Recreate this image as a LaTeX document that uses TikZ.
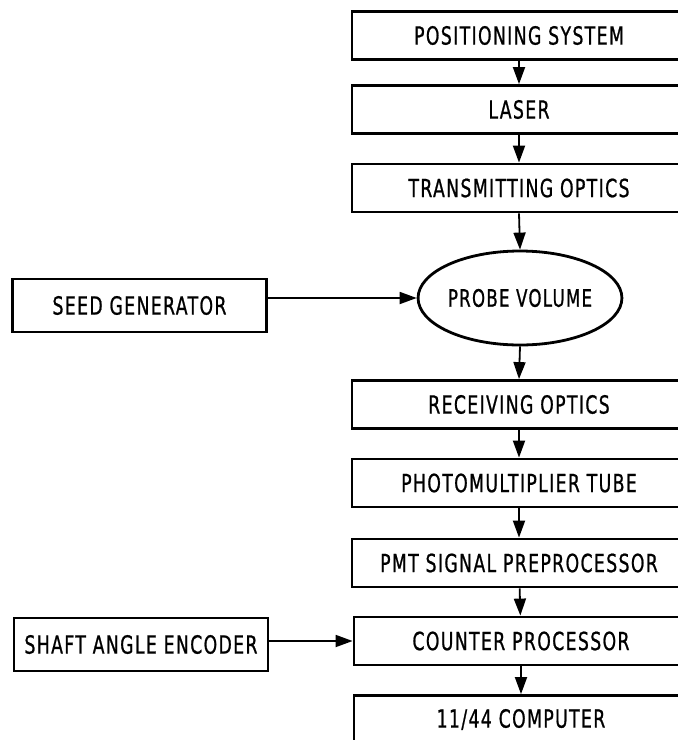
\documentclass[tikz,border=0pt]{standalone}
\usepackage{fontspec}
\setmainfont{DejaVu Sans}[FakeStretch=0.69, LetterSpace=5.5, FakeBold=0.8]
\usetikzlibrary{arrows.meta,shapes.geometric}

\tikzset{
  blk/.style={draw, line width=2.8pt, rectangle, inner sep=0pt,
    font=\fontsize{25}{25}\selectfont},
  chainbox/.style={blk, minimum width=334pt, minimum height=48pt},
  sidebox/.style={blk, minimum width=254pt, minimum height=53pt},
  oval/.style={draw, line width=2.8pt, ellipse, inner sep=0pt,
    minimum width=170pt, minimum height=94pt,
    font=\fontsize{24}{24}\selectfont},
  flow/.style={line width=1.8pt, -{Triangle[length=17pt,width=12pt]}}
}

\begin{document}
\begin{tikzpicture}[x=1pt, y=-1pt]
  \useasboundingbox (0,0) rectangle (678,740);
  \fill[white] (0,0) rectangle (678,740);
  \clip (0,0) rectangle (678,740);

  % main signal chain
  \node[chainbox] (pos)   at (519,35.5)  {POSITIONING SYSTEM};
  \node[chainbox] (laser) at (519,109.5) {LASER};
  \node[chainbox] (trans) at (519,188)   {TRANSMITTING OPTICS};
  \node[oval]     (probe) at (520,298)   {PROBE VOLUME};
  \node[chainbox] (recv)  at (519,404.5) {RECEIVING OPTICS};
  \node[chainbox] (pmt)   at (519,483)   {PHOTOMULTIPLIER TUBE};
  \node[chainbox] (pre)   at (519,563)   {PMT SIGNAL PREPROCESSOR};
  \node[chainbox] (cnt)   at (521,641)   {COUNTER PROCESSOR};
  \node[chainbox] (comp)  at (521,719.5) {11/44 COMPUTER};

  % side inputs
  \node[sidebox] (seed)  at (139.5,305.5) {SEED GENERATOR};
  \node[sidebox] (shaft) at (141,644.5)   {SHAFT ANGLE ENCODER};

  % connectors
  \draw[flow] (pos)   -- (laser);
  \draw[flow] (laser) -- (trans);
  \draw[flow] (trans.south) -- (probe.north);
  \draw[flow] (probe.south) -- (recv.north);
  \draw[flow] (recv)  -- (pmt);
  \draw[flow] (pmt)   -- (pre);
  \draw[flow] (pre)   -- (cnt);
  \draw[flow] (cnt)   -- (comp);
  \draw[flow] (seed.east |- probe.west) -- (probe.west);
  \draw[flow] (shaft.east |- cnt.west) -- (cnt.west);
\end{tikzpicture}
\end{document}
